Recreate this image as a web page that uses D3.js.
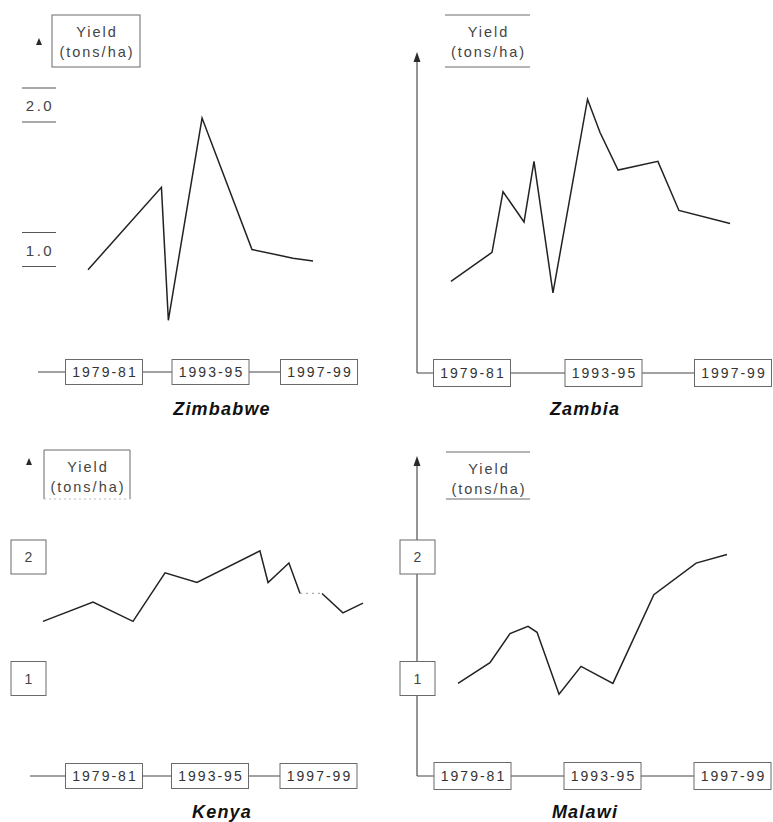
<!DOCTYPE html>
<html><head><meta charset="utf-8">
<script src="https://cdn.jsdelivr.net/npm/d3@7"></script>
<style>
html,body{margin:0;padding:0;background:#fff;}
svg{display:block;font-family:"Liberation Sans",Arial,Helvetica,sans-serif;}
</style></head>
<body>
<svg id="c" width="773" height="822"></svg>
<script>
// ---------- data ----------
const countries = ["Zimbabwe", "Zambia", "Kenya", "Malawi"];
const periodLabels = ["1979-81", "1993-95", "1997-99"];
const periodYears = [1980, 1994, 1998];
const yTitle = ["Yield", "(tons/ha)"];

const zimbabweYears  = [1977.9, 1987.55, 1988.46, 1992.89, 1995.53, 1997.04, 1997.78];
const zimbabweYields = [0.86, 1.43, 0.51, 1.91, 1.00, 0.94, 0.92];

const zambiaYears  = [1977.76, 1982.13, 1983.3, 1985.54, 1986.6, 1988.62, 1992.3, 1993.63, 1994.45, 1995.68, 1996.33, 1997.91];
const zambiaYields = [0.78, 0.98, 1.40, 1.19, 1.61, 0.70, 2.04, 1.81, 1.55, 1.61, 1.27, 1.18];

const kenyaYears  = [1971.94, 1978.55, 1983.83, 1988.06, 1992.28, 1995.84, 1996.14, 1996.91, 1997.32, 1998.13, 1998.9, 1999.64];
const kenyaYields = [1.47, 1.63, 1.47, 1.87, 1.79, 2.05, 1.79, 1.95, 1.70, 1.70, 1.54, 1.62];

const malawiYears  = [1978.44, 1981.88, 1984.04, 1985.98, 1986.95, 1989.32, 1991.69, 1994.32, 1995.58, 1996.88, 1997.83];
const malawiYields = [0.96, 1.13, 1.37, 1.43, 1.38, 0.87, 1.10, 0.96, 1.69, 1.95, 2.02];

const topTicks = [1.0, 2.0];
const topTickLabels = ["1.0", "2.0"];
const bottomTicks = [1, 2];
const bottomTickLabels = ["1", "2"];

// ---------- layout ----------
const svg = d3.select("#c");
const ink = "#2a2a2a";
const boxStroke = "#6a6a6a";

const panels = [
  {name: countries[0], years: zimbabweYears, yields: zimbabweYields,
   xr: [104, 210.5, 319], yr: [249.5, 105], axisY: 372, titleY: 415, titleX: 222,
   ticks: topTicks, tickLabels: topTickLabels, tickStyle: "lines", tickX: [22, 56],
   vAxis: null, arrow: [39, 42], yBox: {x0: 52, x1: 140, y0: 15, y1: 67, style: "box"},
   axisStart: 38, boxH: 25, faded: -1},
  {name: countries[1], years: zambiaYears, yields: zambiaYields,
   xr: [472, 603.5, 733], yr: [249.5, 105], axisY: 373, titleY: 415, titleX: 585,
   ticks: [], tickLabels: [], vAxis: {x: 417, top: 52}, arrow: null,
   yBox: {x0: 445, x1: 530, y0: 15, y1: 67, style: "lines"},
   axisStart: 417, boxH: 27, faded: -1},
  {name: countries[2], years: kenyaYears, yields: kenyaYields,
   xr: [104, 210, 318.5], yr: [678.5, 557], axisY: 776, titleY: 818, titleX: 222,
   ticks: bottomTicks, tickLabels: bottomTickLabels, tickStyle: "box", tickX: [11, 46],
   vAxis: null, arrow: [29, 462], yBox: {x0: 44, x1: 130, y0: 450, y1: 499, style: "open"},
   axisStart: 30, boxH: 25, faded: 8},
  {name: countries[3], years: malawiYears, yields: malawiYields,
   xr: [472.5, 602.5, 732.5], yr: [678.5, 557], axisY: 776, titleY: 818, titleX: 585,
   ticks: bottomTicks, tickLabels: bottomTickLabels, tickStyle: "box", tickX: [400, 435],
   vAxis: {x: 417, top: 456}, arrow: null,
   yBox: {x0: 446, x1: 530, y0: 452, y1: 499, style: "lines"},
   axisStart: 417, boxH: 27, faded: -1}
];

panels.forEach(p => {
  const g = svg.append("g");
  const x = d3.scaleLinear().domain(periodYears).range(p.xr);
  const y = d3.scaleLinear().domain([1, 2]).range(p.yr);

  // vertical axis with arrow
  if (p.vAxis) {
    g.append("line").attr("x1", p.vAxis.x).attr("x2", p.vAxis.x)
      .attr("y1", p.vAxis.top + 6).attr("y2", p.axisY)
      .attr("stroke", ink).attr("stroke-width", 1);
    g.append("path")
      .attr("d", `M${p.vAxis.x},${p.vAxis.top} L${p.vAxis.x - 3.5},${p.vAxis.top + 10} L${p.vAxis.x + 3.5},${p.vAxis.top + 10} Z`)
      .attr("fill", ink);
  }
  if (p.arrow) {
    const [ax, ay] = p.arrow;
    g.append("path")
      .attr("d", `M${ax},${ay - 4} L${ax - 3},${ay + 3} L${ax + 3},${ay + 3} Z`)
      .attr("fill", ink);
  }

  // horizontal time axis
  g.append("line").attr("x1", p.axisStart).attr("x2", x(periodYears[2]))
    .attr("y1", p.axisY).attr("y2", p.axisY)
    .attr("stroke", "#444").attr("stroke-width", 1);

  // period label boxes
  const bw = 77;
  periodLabels.forEach((lab, i) => {
    const cx = x(periodYears[i]);
    g.append("rect").attr("x", cx - bw / 2).attr("y", p.axisY - p.boxH / 2)
      .attr("width", bw).attr("height", p.boxH)
      .attr("fill", "#fff").attr("stroke", boxStroke).attr("stroke-width", 1);
    g.append("text").attr("x", cx + 1).attr("y", p.axisY + 5)
      .attr("text-anchor", "middle").attr("font-size", 14).attr("fill", "#333")
      .attr("letter-spacing", 2)
      .text(lab);
  });

  // y tick labels
  p.ticks.forEach((t, i) => {
    const cy = y(t);
    const [x0, x1] = p.tickX;
    if (p.tickStyle === "lines") {
      g.append("line").attr("x1", x0).attr("x2", x1).attr("y1", cy - 17).attr("y2", cy - 17)
        .attr("stroke", "#555").attr("stroke-width", 1);
      g.append("line").attr("x1", x0).attr("x2", x1).attr("y1", cy + 17).attr("y2", cy + 17)
        .attr("stroke", "#555").attr("stroke-width", 1);
      g.append("text").attr("x", (x0 + x1) / 2 + 1).attr("y", cy + 6)
        .attr("text-anchor", "middle").attr("font-size", 15).attr("letter-spacing", 2.5)
        .attr("fill", "#444").text(p.tickLabels[i]);
    } else {
      g.append("rect").attr("x", x0).attr("y", cy - 17).attr("width", x1 - x0).attr("height", 34)
        .attr("fill", "#fff").attr("stroke", boxStroke).attr("stroke-width", 1);
      g.append("text").attr("x", (x0 + x1) / 2).attr("y", cy + 5)
        .attr("text-anchor", "middle").attr("font-size", 14).attr("fill", "#444")
        .text(p.tickLabels[i]);
    }
  });

  // y title box
  const b = p.yBox;
  if (b.style === "box") {
    g.append("rect").attr("x", b.x0).attr("y", b.y0).attr("width", b.x1 - b.x0).attr("height", b.y1 - b.y0)
      .attr("fill", "none").attr("stroke", boxStroke).attr("stroke-width", 1);
  } else if (b.style === "open") {
    g.append("path").attr("d", `M${b.x0},${b.y1} V${b.y0} H${b.x1} V${b.y1}`)
      .attr("fill", "none").attr("stroke", boxStroke).attr("stroke-width", 1);
    g.append("line").attr("x1", b.x0).attr("x2", b.x1).attr("y1", b.y1).attr("y2", b.y1)
      .attr("stroke", "#bbb").attr("stroke-width", 1).attr("stroke-dasharray", "2,3");
  } else {
    g.append("line").attr("x1", b.x0).attr("x2", b.x1).attr("y1", b.y0).attr("y2", b.y0)
      .attr("stroke", boxStroke).attr("stroke-width", 1);
    g.append("line").attr("x1", b.x0).attr("x2", b.x1).attr("y1", b.y1).attr("y2", b.y1)
      .attr("stroke", boxStroke).attr("stroke-width", 1);
  }
  const bc = (b.x0 + b.x1) / 2 + 1;
  g.append("text").attr("x", bc).attr("y", b.y0 + 22)
    .attr("text-anchor", "middle").attr("font-size", 14.5).attr("letter-spacing", 2)
    .attr("fill", "#444").text(yTitle[0]);
  g.append("text").attr("x", bc).attr("y", b.y0 + 42)
    .attr("text-anchor", "middle").attr("font-size", 14.5).attr("letter-spacing", 2)
    .attr("fill", "#444").text(yTitle[1]);

  // data line
  const pts = p.years.map((yr, i) => [yr, p.yields[i]]);
  const line = d3.line().x(d => x(d[0])).y(d => y(d[1]));
  if (p.faded >= 0) {
    const parts = [pts.slice(0, p.faded + 1), pts.slice(p.faded + 1)];
    parts.forEach(seg => {
      g.append("path").datum(seg).attr("d", line)
        .attr("fill", "none").attr("stroke", "#222").attr("stroke-width", 1.5);
    });
    g.append("path").datum(pts.slice(p.faded, p.faded + 2)).attr("d", line)
      .attr("fill", "none").attr("stroke", "#aaa").attr("stroke-width", 1.2)
      .attr("stroke-dasharray", "2,4");
  } else {
    g.append("path").datum(pts).attr("d", line)
      .attr("fill", "none").attr("stroke", "#222").attr("stroke-width", 1.5);
  }

  // country title
  g.append("text").attr("x", p.titleX).attr("y", p.titleY)
    .attr("text-anchor", "middle").attr("font-size", 18).attr("font-weight", "bold")
    .attr("letter-spacing", 1.2)
    .attr("font-style", "italic").attr("fill", "#111").text(p.name);
});
</script>
</body></html>
